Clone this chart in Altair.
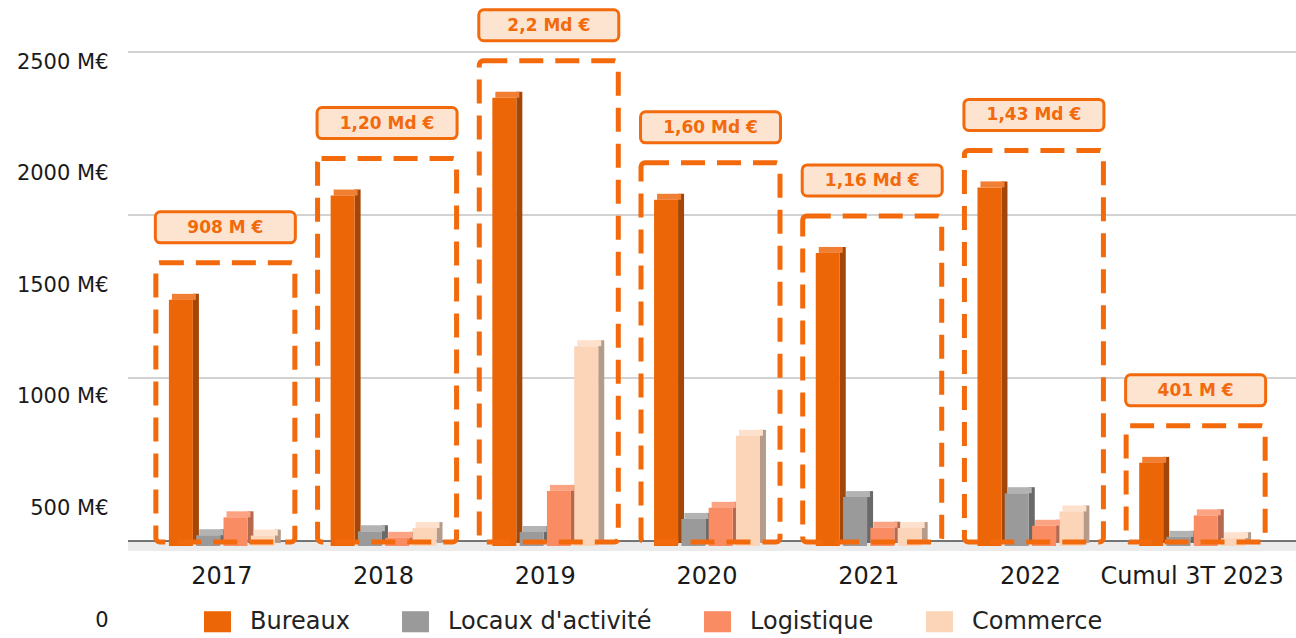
import altair as alt
import pandas as pd

# ---------------- data ----------------
years = ["2017", "2018", "2019", "2020", "2021", "2022", "Cumul 3T 2023"]
types = ["Bureaux", "Locaux d'activité", "Logistique", "Commerce"]
bureaux = [755, 1075, 1375, 1062, 899, 1100, 255]
locaux = [33, 45, 43, 83, 150, 162, 28]
logistique = [88, 25, 169, 117, 56, 62, 94]
commerce = [32, 55, 613, 338, 55, 106, 24]
total_labels = ["908 M €", "1,20 Md €", "2,2 Md €", "1,60 Md €", "1,16 Md €", "1,43 Md €", "401 M €"]
grid_values = [0, 500, 1000, 1500]
axis_label_values = [0, 500, 1000, 1500, 2000, 2500]

# ---------------- styles ----------------
front_colors = ["#EC6608", "#9A9A9A", "#F98C62", "#FCD4B8"]
side_colors = ["#A34709", "#696969", "#B56A4F", "#B59C8A"]
top_colors = ["#F07F33", "#B3B3B3", "#FBA383", "#FDE1CD"]
ORANGE = "#F26A0C"
LABEL_FILL = "#FCE4D1"
FONT = "DejaVu Sans"

series = [bureaux, locaux, logistique, commerce]
rows = []
for t, vals in zip(types, series):
    for y, v in zip(years, vals):
        rows.append({"year": y, "type": t, "value": v})
df = pd.DataFrame(rows)

box_df = pd.DataFrame({
    "year": years,
    "mx": [max(s[i] for s in series) for i in range(len(years))],
    "label": total_labels,
})
grid_df = pd.DataFrame({"v": grid_values})
axis_df = pd.DataFrame({"v": axis_label_values})

x_enc = alt.X(
    "year:N", sort=years,
    scale=alt.Scale(domain=years, range=[13, 1145], paddingInner=0.345, paddingOuter=0.1725),
    axis=alt.Axis(title=None, labelAngle=0, domain=False, ticks=False, labelFont=FONT,
                  labelFontSize=24, labelColor="#1a1a1a", labelPadding=4, offset=-78,
                  labelLimit=300),
)
y_scale = alt.Scale(domain=[0, 1500], range=[546, 57], nice=False, zero=False)


def yv(field):
    return alt.Y(field, scale=y_scale, axis=None)


color_enc = alt.Color(
    "type:N", sort=types,
    scale=alt.Scale(domain=types, range=front_colors),
    legend=alt.Legend(
        orient="none", legendX=76, legendY=608, direction="horizontal", title=None,
        symbolType="M-1,-0.78H1V0.78H-1Z", symbolSize=729, symbolStrokeWidth=0,
        labelFont=FONT, labelFontSize=24, labelColor="#222222", labelOffset=19,
        columnPadding=52, labelLimit=400, padding=0,
    ),
)

layers = []

# floor band
layers.append(
    alt.Chart(grid_df).transform_filter("datum.v == 0")
    .mark_rect(color="#ebebeb", yOffset=-5, y2Offset=5)
    .encode(y=yv("v:Q"), y2="v:Q")
)
# gridlines
layers.append(
    alt.Chart(grid_df).transform_filter("datum.v > 0")
    .mark_rule(color="#d2d2d2", strokeWidth=2, yOffset=-5)
    .encode(y=yv("v:Q"))
)
# baseline
layers.append(
    alt.Chart(grid_df).transform_filter("datum.v == 0")
    .mark_rule(color="#4a4a4a", strokeWidth=1.5, yOffset=-5)
    .encode(y=yv("v:Q"))
)

# 3D-like bars
sub_step = 27.3
for i, t in enumerate(types):
    off = (i - 1.5) * sub_step
    base = alt.Chart(df).transform_filter(alt.datum.type == t)
    layers.append(
        base.mark_bar(width=6, xOffset=off + 15, yOffset=-6, y2Offset=-3, color=side_colors[i])
        .encode(x=x_enc, y=yv("value:Q"), y2=alt.datum(0))
    )
    layers.append(
        base.mark_bar(width=24, xOffset=off + 3, yOffset=-6, y2Offset=0, color=top_colors[i])
        .encode(x=x_enc, y=yv("value:Q"), y2=alt.Y2("value:Q"))
    )
    layers.append(
        base.mark_bar(width=24, xOffset=off)
        .encode(x=x_enc, y=yv("value:Q"), y2=alt.datum(0), color=color_enc)
    )

# dashed boxes
layers.append(
    alt.Chart(box_df).mark_bar(
        width=139, xOffset=3.5, fill="transparent", stroke=ORANGE, strokeWidth=5,
        strokeDash=[24, 12], cornerRadius=4, yOffset=-37, y2Offset=-4,
    ).encode(x=x_enc, y=yv("mx:Q"), y2=alt.datum(0))
)
# label boxes
layers.append(
    alt.Chart(box_df).mark_bar(
        width=140, xOffset=3.5, fill=LABEL_FILL, stroke=ORANGE, strokeWidth=3,
        cornerRadius=5, yOffset=-88, y2Offset=-57,
    ).encode(x=x_enc, y=yv("mx:Q"), y2=alt.Y2("mx:Q"))
)
layers.append(
    alt.Chart(box_df).mark_text(
        xOffset=3.5, yOffset=-72, font=FONT, fontWeight="bold", fontSize=17,
        color=ORANGE, baseline="middle", align="center",
    ).encode(x=x_enc, y=yv("mx:Q"), text="label:N")
)

# y-axis labels (as printed on the original)
layers.append(
    alt.Chart(axis_df).mark_point(opacity=0).encode(
        y=alt.Y(
            "v:Q",
            scale=alt.Scale(domain=[0, 2500], range=[620, 62], nice=False),
            axis=alt.Axis(
                orient="left", values=axis_label_values, title=None, domain=False,
                ticks=False, grid=False, labelPadding=20, labelFont=FONT,
                labelFontSize=21, labelColor="#1a1a1a",
                labelExpr="datum.value == 0 ? '0' : datum.value + ' M€'",
            ),
        )
    )
)

chart = (
    alt.layer(*layers)
    .resolve_scale(y="independent")
    .properties(
        width=1168, height=638,
        autosize=alt.AutoSizeParams(type="none"),
        padding={"left": 128, "top": 0, "right": 0, "bottom": 0},
        background="white",
    )
    .configure_view(strokeWidth=0)
)

chart.save("out.html", embed_options={"renderer": "svg", "actions": False})
